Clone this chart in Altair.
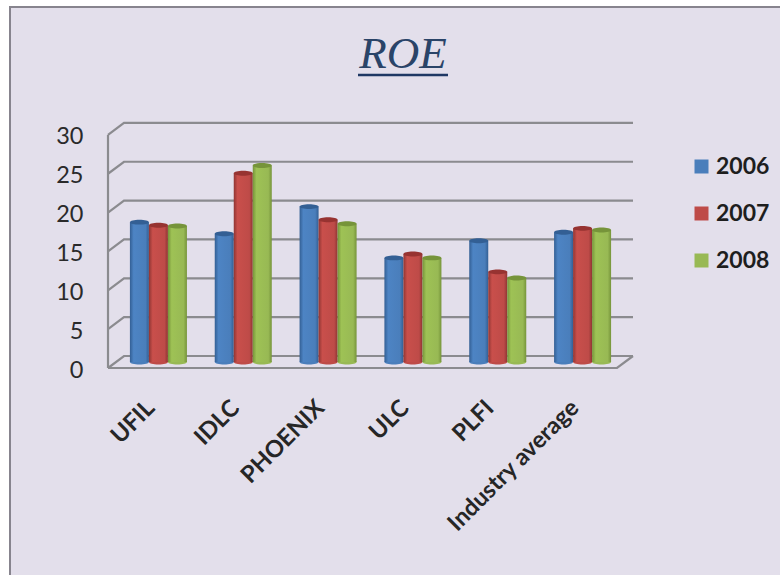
import altair as alt
import pandas as pd

title_text = "ROE"
categories = ["UFIL", "IDLC", "PHOENIX", "ULC", "PLFI", "Industry average"]
years = ["2006", "2007", "2008"]
roe_2006 = [18.0, 16.5, 20.0, 13.4, 15.6, 16.7]
roe_2007 = [17.6, 24.3, 18.3, 13.9, 11.6, 17.2]
roe_2008 = [17.5, 25.3, 17.8, 13.4, 10.8, 17.0]
tick_values = [0, 5, 10, 15, 20, 25, 30]

base_colors = ["#4A7EBB", "#BE4B48", "#98B954"]
edge_colors = ["#335F94", "#8F3533", "#76943A"]
light_colors = ["#4D84C4", "#C94F4B", "#9EC255"]
top_colors = ["#335F94", "#973331", "#76943A"]

# Plot frame in pixels: front floor width, wall depth, vertical scale
FRONT_W, DEPTH_X, DEPTH_Y, PLOT_W, PLOT_H = 509, 16, 12, 525, 246
PX_PER_UNIT = 7.77
BAR_SHIFT = 6
ELLIPSE = "M-1,0 A1,0.26 0 1 1 1,0 A1,0.26 0 1 1 -1,0 Z"

bars = pd.DataFrame(
    [
        {"category": c, "year": y, "value": v, "base": 0}
        for y, series in zip(years, [roe_2006, roe_2007, roe_2008])
        for c, v in zip(categories, series)
    ]
)

# Wall and floor lines of the pseudo-3D frame
back = DEPTH_Y / PX_PER_UNIT
frame_rows = []
for t in tick_values:
    frame_rows += [
        {"id": f"g{t}", "o": 0, "px": 0, "v": t},
        {"id": f"g{t}", "o": 1, "px": DEPTH_X, "v": t + back},
        {"id": f"g{t}", "o": 2, "px": PLOT_W, "v": t + back},
    ]
frame_rows += [
    {"id": "wall", "o": 0, "px": 0, "v": 0},
    {"id": "wall", "o": 1, "px": 0, "v": 30},
    {"id": "floor", "o": 0, "px": 0, "v": 0},
    {"id": "floor", "o": 1, "px": FRONT_W, "v": 0},
    {"id": "floor", "o": 2, "px": PLOT_W, "v": back},
]
frame = pd.DataFrame(frame_rows)

y_frame = alt.Scale(domain=[0, PLOT_H / PX_PER_UNIT], nice=False, zero=False)
y_bars = alt.Scale(
    domain=[-BAR_SHIFT / PX_PER_UNIT, (PLOT_H - BAR_SHIFT) / PX_PER_UNIT], nice=False, zero=False
)
x_bars = alt.Scale(
    domain=categories, range=[DEPTH_X // 2, FRONT_W + DEPTH_X // 2], paddingInner=0.328, paddingOuter=0.164
)
x_off = alt.Scale(domain=years)

panel = alt.Chart(pd.DataFrame({"a": [0]})).mark_rect(
    fill="#E3DFEB", stroke="#87848E", strokeWidth=2
).encode(x=alt.value(-98), x2=alt.value(680), y=alt.value(-115), y2=alt.value(460))

heading = alt.Chart(pd.DataFrame({"label": [title_text]})).mark_text(
    font="Liberation Serif", fontStyle="italic", fontSize=45, color="#2A4468", align="center", baseline="alphabetic"
).encode(text="label:N", x=alt.value(295), y=alt.value(-54))

underline = alt.Chart(pd.DataFrame({"a": [0]})).mark_rule(
    color="#1F3864", strokeWidth=2.5
).encode(x=alt.value(250), x2=alt.value(340), y=alt.value(-47))

frame_layer = alt.Chart(frame).mark_line(color="#8B8B8F", strokeWidth=2.2).encode(
    x=alt.X("px:Q", scale=alt.Scale(domain=[0, PLOT_W], nice=False, zero=False), axis=None),
    y=alt.Y(
        "v:Q",
        scale=y_frame,
        title=None,
        axis=alt.Axis(
            values=tick_values, domain=False, ticks=False, grid=False, labelFont="Lato",
            labelFontSize=23.5, labelColor="#2A2A2A", labelPadding=25, labelOffset=2, zindex=1,
        ),
    ),
    detail="id:N",
    order="o:Q",
)

cat_axis = alt.Chart(pd.DataFrame({"category": categories})).mark_point(opacity=0).encode(
    x=alt.X(
        "category:N",
        sort=categories,
        title=None,
        scale=alt.Scale(domain=categories, range=[0, FRONT_W]),
        axis=alt.Axis(
            domain=False, ticks=False, grid=False, labelAngle=-45, labelAlign="right", labelBaseline="middle",
            labelFont="Lato", labelFontSize=23.5, labelFontWeight="bold", labelColor="#262626", labelPadding=36,
            labelOverlap=False, labelLimit=300, zindex=1,
        ),
    )
)

floor_caps = alt.Chart(bars).mark_point(filled=True, shape=ELLIPSE, size=361, opacity=1).encode(
    x=alt.X("category:N", sort=categories, scale=x_bars, axis=None),
    xOffset=alt.XOffset("year:N", scale=x_off),
    y=alt.Y("base:Q", scale=y_bars, axis=None),
    color=alt.Color(
        "year:N",
        scale=alt.Scale(domain=years, range=base_colors),
        legend=alt.Legend(
            title=None, orient="none", legendX=582, legendY=33, symbolType="square", symbolSize=196,
            symbolStrokeWidth=0, labelFont="Lato", labelFontSize=23, labelFontWeight="bold",
            labelColor="#1E1E1E", rowPadding=23, labelOffset=3,
        ),
    ),
)

layers = [panel, heading, underline, frame_layer, cat_axis, floor_caps]

for year, edge, light, base, top in zip(years, edge_colors, light_colors, base_colors, top_colors):
    subset = bars[bars["year"] == year]
    cylinder = alt.Gradient(
        gradient="linear", x1=0, x2=1, y1=0, y2=0,
        stops=[
            alt.GradientStop(color=edge, offset=0),
            alt.GradientStop(color=light, offset=0.2),
            alt.GradientStop(color=base, offset=0.82),
            alt.GradientStop(color=edge, offset=1),
        ],
    )
    layers.append(
        alt.Chart(subset).mark_bar(fill=cylinder).encode(
            x=alt.X("category:N", sort=categories, scale=x_bars, axis=None),
            xOffset=alt.XOffset("year:N", scale=x_off),
            y=alt.Y("value:Q", stack=None, scale=y_bars, axis=None),
        )
    )
    layers.append(
        alt.Chart(subset).mark_point(filled=True, shape=ELLIPSE, size=361, opacity=1, color=top).encode(
            x=alt.X("category:N", sort=categories, scale=x_bars, axis=None),
            xOffset=alt.XOffset("year:N", scale=x_off),
            y=alt.Y("value:Q", scale=y_bars, axis=None),
        )
    )

chart = (
    alt.layer(*layers)
    .resolve_scale(x="independent", y="independent", color="independent", xOffset="independent")
    .properties(
        width=PLOT_W,
        height=PLOT_H,
        autosize="none",
        padding={"left": 108, "top": 122, "right": 147, "bottom": 207},
        background="#FFFFFF",
    )
    .configure_view(stroke=None)
)

chart.save("out.html", embed_options={"renderer": "svg", "actions": False})
